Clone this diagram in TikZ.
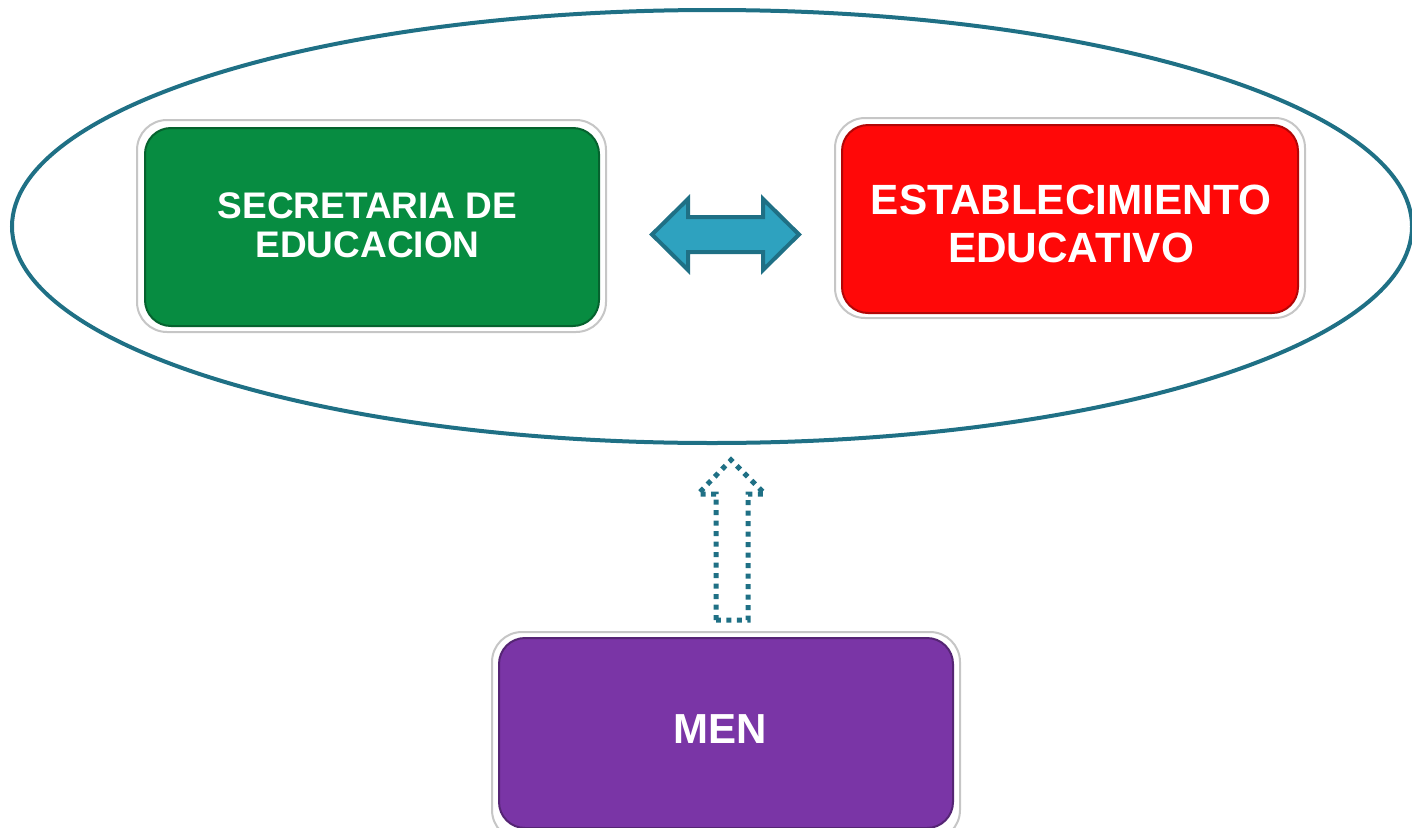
\documentclass[tikz,border=0pt]{standalone}
\usepackage{fontspec}
\setmainfont{Liberation Sans}
\usetikzlibrary{shapes.geometric}
\definecolor{teal1}{HTML}{1F7085}
\definecolor{arrowfill}{HTML}{2EA2BF}
\definecolor{greenbox}{HTML}{078C41}
\definecolor{redbox}{HTML}{FF0808}
\definecolor{purplebox}{HTML}{7A35A6}
\tikzset{
  frame/.style={draw=gray!45, line width=2pt, fill=white, rounded corners=30pt},
  boxtext/.style={text=white, font=\bfseries, align=center},
}
\begin{document}
\begin{tikzpicture}[x=1pt,y=-1pt]
\useasboundingbox (0,0) rectangle (1412,827);
% ellipse
\node[draw=teal1, line width=4pt, ellipse, minimum width=1400pt, minimum height=433pt, inner sep=0pt] (ell) at (712,226.5) {};
% green box
\draw[frame] (137,120) rectangle (606,332);
\node[draw=greenbox!70!black, line width=2pt, fill=greenbox, rounded corners=26pt, minimum width=454pt, minimum height=198pt, inner sep=0pt] (sec) at (372,227) {};
\node[boxtext, font=\bfseries\fontsize{37}{39}\selectfont] (sect) at (367.5,225) {SECRETARIA DE\\EDUCACION};
% red box
\draw[frame] (835,118) rectangle (1305,318);
\node[draw=redbox!70!black, line width=2pt, fill=redbox, rounded corners=26pt, minimum width=456pt, minimum height=188pt, inner sep=0pt] (est) at (1070,219) {};
\node[boxtext, font=\bfseries\fontsize{42.3}{48}\selectfont] (estt) at (1071,223.5) {ESTABLECIMIENTO\\EDUCATIVO};
% purple box
\draw[frame] (492,632) rectangle (960,840);
\node[draw=purplebox!70!black, line width=2pt, fill=purplebox, rounded corners=26pt, minimum width=454pt, minimum height=190pt, inner sep=0pt] (men) at (726,733) {};
\node[boxtext, font=\bfseries\fontsize{42}{46}\selectfont] (ment) at (720,729) {MEN};
% double arrow
\coordinate (dl) at (652,234.5);
\coordinate (dr) at (799,234.5);
\draw[teal1, line width=4pt, fill=arrowfill, line join=miter]
  (dl) -- (688,199) -- (688,217) -- (763,217) -- (763,199) -- (dr)
  -- (763,270) -- (763,252) -- (688,252) -- (688,270) -- cycle;
% dotted up arrow
\coordinate (ut) at (731,460);
\draw[teal1, line width=5pt, dash pattern=on 5pt off 5.5pt, line join=miter]
  (716,620) -- (716,494) -- (698,494) -- (ut) -- (765,494) -- (748,494) -- (748,620) -- cycle;
\end{tikzpicture}
\end{document}
